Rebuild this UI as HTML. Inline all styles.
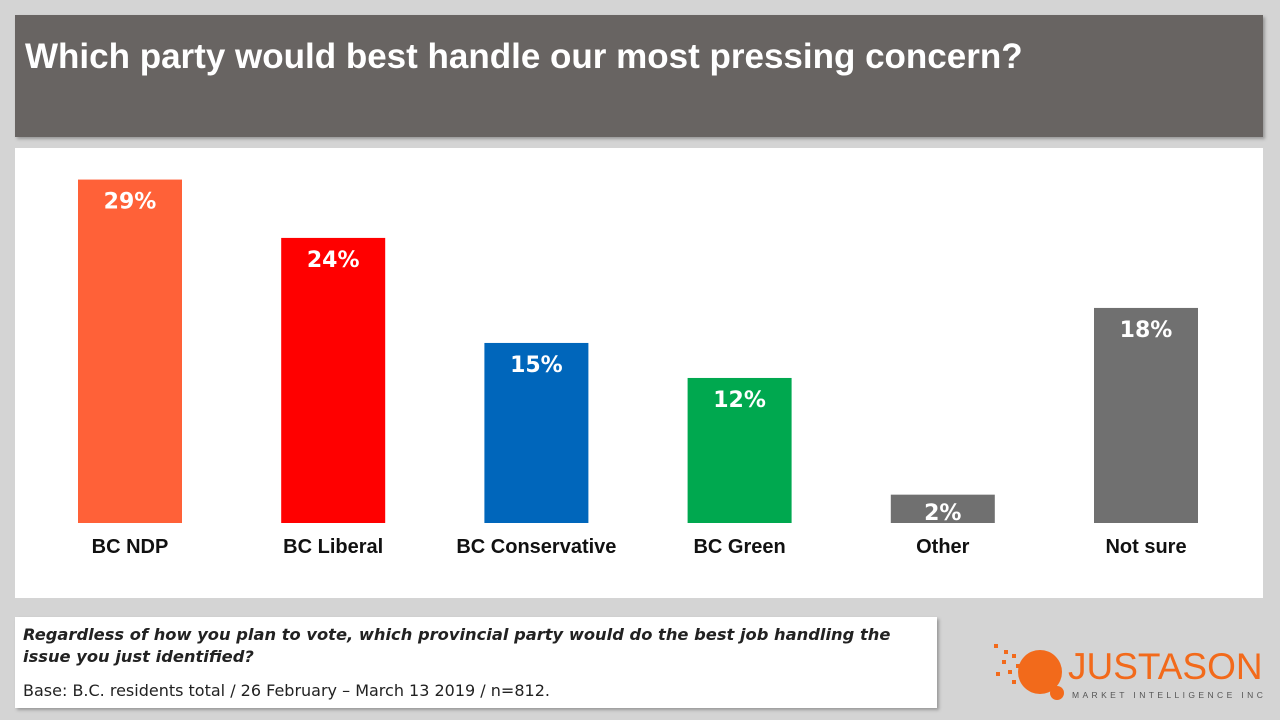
<!DOCTYPE html>
<html><head><meta charset="utf-8"><style>
body{margin:0;width:1280px;height:720px;background:#d4d4d4;font-family:"Liberation Sans",sans-serif;position:relative;overflow:hidden}
#title{position:absolute;left:15px;top:15px;width:1248px;height:122px;background:#686462;box-shadow:2px 2px 3px #999}
#title h1{margin:0;position:absolute;left:10px;top:22px;color:#fff;font-size:35px;font-weight:bold;letter-spacing:0}
#panel{position:absolute;left:15px;top:148px;width:1248px;height:450px;background:#fff}
#foot{position:absolute;left:15px;top:617px;width:922px;height:91px;background:#fff;box-shadow:2px 2px 3px #999;font-family:"DejaVu Sans",sans-serif;font-size:16px;color:#222}
</style></head><body>
<div id="title"><h1>Which party would best handle our most pressing concern?</h1></div>
<div id="panel"></div>
<svg id="chart" width="1280" height="720" style="position:absolute;left:0;top:0"></svg>
<div id="foot">
<div style="position:absolute;left:8px;top:7px;width:900px;font-style:italic;font-weight:bold;line-height:22px;font-size:16.3px">Regardless of how you plan to vote, which provincial party would do the best job handling the<br>issue you just identified?</div>
<div style="position:absolute;left:8px;top:64px">Base: B.C. residents total / 26 February – March 13 2019 / n=812.</div>
</div>
<div style="position:absolute;left:990px;top:642px;width:75px;height:60px">
<div style="position:absolute;left:28px;top:8px;width:44px;height:44px;border-radius:50%;background:#f26a1b"></div>
<div style="position:absolute;left:60px;top:44px;width:14px;height:14px;border-radius:50%;background:#f26a1b"></div>
<div style="position:absolute;left:4px;top:2px;width:4px;height:4px;background:#f26a1b;box-shadow:10px 6px #f26a1b,18px 10px #f26a1b,8px 16px #f26a1b,22px 20px #f26a1b,14px 26px #f26a1b,2px 28px #f26a1b,26px 32px #f26a1b,18px 36px #f26a1b"></div>
</div>
<div style="position:absolute;left:1068px;top:646px;color:#f26a1b;font-size:37px;letter-spacing:0px">JUSTASON</div>
<div style="position:absolute;left:1072px;top:690px;color:#555;font-size:8.5px;letter-spacing:3.4px">MARKET INTELLIGENCE INC</div>
<script>
const categories=["BC NDP","BC Liberal","BC Conservative","BC Green","Other","Not sure"];
const values=[29,24,15,12,2,18];
const colors=["#ff6138","#ff0000","#0066bb","#00a84f","#707070","#707070"];
const svg=document.getElementById('chart');
const NS="http://www.w3.org/2000/svg";
const x0=130,step=203.2,bw=104,base=523;
function y(v){return 518-v*11.67;}
categories.forEach((c,i)=>{
 const cx=x0+i*step;
 const r=document.createElementNS(NS,'rect');
 r.setAttribute('x',cx-bw/2);r.setAttribute('y',y(values[i]));
 r.setAttribute('width',bw);r.setAttribute('height',base-y(values[i]));
 r.setAttribute('fill',colors[i]);
 
 
 svg.appendChild(r);
 const t=document.createElementNS(NS,'text');
 t.setAttribute('x',cx);t.setAttribute('y',Math.min(y(values[i])+29,520));
 t.setAttribute('text-anchor','middle');t.setAttribute('fill','#fff');
 t.setAttribute('font-size','22');t.setAttribute('font-weight','bold');
 t.setAttribute('font-family','DejaVu Sans, sans-serif');
 t.textContent=values[i]+'%';
 
 
 svg.appendChild(t);
 const l=document.createElementNS(NS,'text');
 l.setAttribute('x',cx);l.setAttribute('y',553);
 l.setAttribute('text-anchor','middle');l.setAttribute('fill','#111');
 l.setAttribute('font-size','20');l.setAttribute('font-weight','bold');
 l.setAttribute('font-family','Liberation Sans, sans-serif');
 l.textContent=c;
 
 
 svg.appendChild(l);
});
</script>
</body></html>
